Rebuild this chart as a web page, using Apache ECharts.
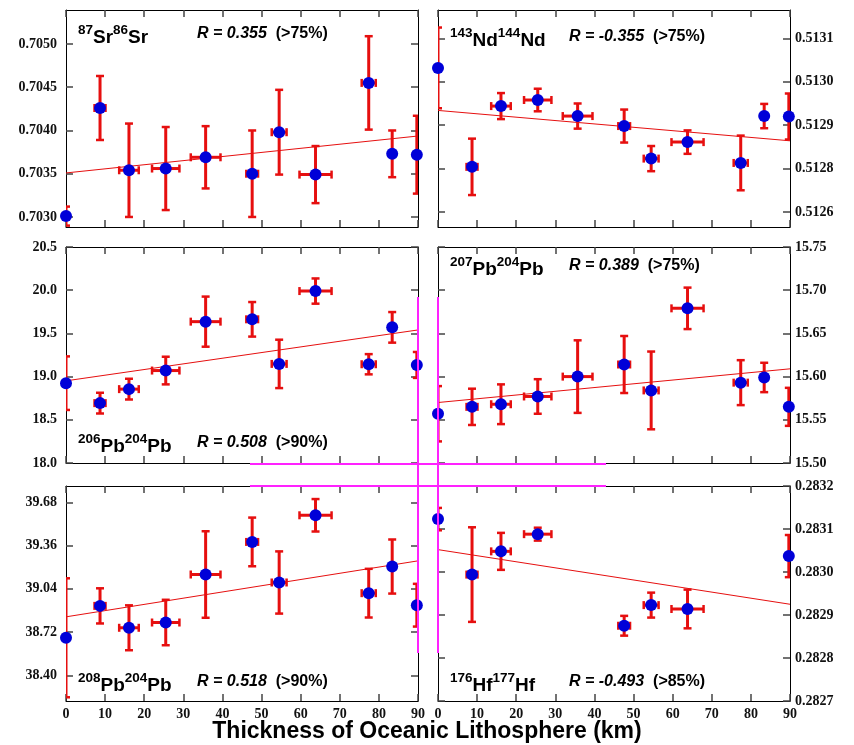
<!DOCTYPE html>
<html>
<head>
<meta charset="utf-8">
<script src="https://cdn.jsdelivr.net/npm/echarts@6/dist/echarts.min.js"></script>
<style>
  html, body { margin: 0; padding: 0; background: #fff; }
  #main { width: 854px; height: 745px; }
</style>
</head>
<body>
<div id="main"></div>
<script>
  // thickness of oceanic lithosphere (km) and its error
  var thickness = [0, 8.7, 16.1, 25.5, 35.7, 47.6, 54.5, 63.8, 77.4, 83.4, 89.7];
  var thicknessErr = [0, 1.4, 2.5, 3.5, 3.8, 1.5, 1.9, 4.1, 1.8, 0, 0];

  // 87Sr/86Sr
  var srVal = [0.70301, 0.70426, 0.70354, 0.70356, 0.70369, 0.70350, 0.70398, 0.70349, 0.70455, 0.70373, 0.70372];
  var srErr = [0.00011, 0.00037, 0.00054, 0.00048, 0.00036, 0.00050, 0.00049, 0.00033, 0.00054, 0.00027, 0.00045];
  var srFit = [0.703509, 0.703936];
  var srTicks = [0.7030, 0.7035, 0.7040, 0.7045, 0.7050];
  var srTickLabels = ['0.7030', '0.7035', '0.7040', '0.7045', '0.7050'];

  // 143Nd/144Nd
  var ndVal = [0.513032, 0.512804, 0.512944, 0.512958, 0.512921, 0.512898, 0.512823, 0.512861, 0.512813, 0.512921, 0.512920];
  var ndErr = [0.000093, 0.000065, 0.000030, 0.000026, 0.000029, 0.000038, 0.000029, 0.000027, 0.000063, 0.000028, 0.000053];
  var ndFit = [0.512934, 0.512864];
  var ndTicks = [0.5127, 0.5128, 0.5129, 0.5130, 0.5131];
  var ndTickLabels = ['0.5126', '0.5128', '0.5129', '0.5130', '0.5131'];

  // 206Pb/204Pb
  var pb206Val = [18.924, 18.693, 18.855, 19.07, 19.636, 19.663, 19.147, 19.99, 19.143, 19.57, 19.135];
  var pb206Err = [0.31, 0.12, 0.12, 0.16, 0.29, 0.2, 0.28, 0.146, 0.117, 0.177, 0.15];
  var pb206Fit = [18.951, 19.54];
  var pb206Ticks = [18.0, 18.5, 19.0, 19.5, 20.0, 20.5];
  var pb206TickLabels = ['18.0', '18.5', '19.0', '19.5', '20.0', '20.5'];

  // 207Pb/204Pb
  var pb207Val = [15.557, 15.565, 15.568, 15.577, 15.6, 15.614, 15.584, 15.679, 15.593, 15.599, 15.565];
  var pb207Err = [0.032, 0.021, 0.023, 0.02, 0.042, 0.033, 0.045, 0.024, 0.026, 0.017, 0.022];
  var pb207Fit = [15.570, 15.609];
  var pb207Ticks = [15.50, 15.55, 15.60, 15.65, 15.70, 15.75];
  var pb207TickLabels = ['15.50', '15.55', '15.60', '15.65', '15.70', '15.75'];

  // 208Pb/204Pb
  var pb208Val = [38.678, 38.914, 38.752, 38.791, 39.146, 39.387, 39.087, 39.584, 39.008, 39.205, 38.919];
  var pb208Err = [0.44, 0.13, 0.166, 0.168, 0.32, 0.18, 0.23, 0.12, 0.18, 0.2, 0.158];
  var pb208Fit = [38.833, 39.247];
  var pb208Ticks = [38.40, 38.72, 39.04, 39.36, 39.68];
  var pb208TickLabels = ['38.40', '38.72', '39.04', '39.36', '39.68'];

  // 176Hf/177Hf (fewer samples)
  var hfIdx = [0, 1, 2, 3, 5, 6, 7, 10];
  var hfVal = [0.283123, 0.282994, 0.283048, 0.283088, 0.282875, 0.282923, 0.282914, 0.283037];
  var hfErr = [0.000026, 0.00011, 0.000043, 0.000015, 0.000023, 0.000029, 0.000045, 0.000049];
  var hfFit = [0.283052, 0.282925];
  var hfTicks = [0.2827, 0.2828, 0.2829, 0.2830, 0.2831, 0.2832];
  var hfTickLabels = ['0.2827', '0.2828', '0.2829', '0.2830', '0.2831', '0.2832'];

  var isoTexts = ['{s|87}{b|Sr}{s|86}{b|Sr}', '{s|143}{b|Nd}{s|144}{b|Nd}', '{s|206}{b|Pb}{s|204}{b|Pb}',
                  '{s|207}{b|Pb}{s|204}{b|Pb}', '{s|208}{b|Pb}{s|204}{b|Pb}', '{s|176}{b|Hf}{s|177}{b|Hf}'];
  var rTexts = ['R = 0.355', 'R = -0.355', 'R = 0.508', 'R = 0.389', 'R = 0.518', 'R = -0.493'];
  var confTexts = ['(>75%)', '(>75%)', '(>90%)', '(>75%)', '(>90%)', '(>85%)'];

  var allIdx = thickness.map(function (d, i) { return i; });

  var RED = '#e60f0f';
  var BLUE = '#0000d8';
  var SERIF = '"Liberation Serif", "Times New Roman", serif';
  var SANS = '"Liberation Sans", Arial, sans-serif';

  // tickStep is only set where the axis min is a multiple of it
  var panels = [
    { val: srVal, err: srErr, fit: srFit, idx: allIdx, ticks: srTicks, labels: srTickLabels, min: 0.702884, max: 0.705393,
      grid: { left: 66, top: 10, width: 352, height: 217 }, side: 'left', textY: 33.5 },
    { val: ndVal, err: ndErr, fit: ndFit, idx: allIdx, ticks: ndTicks, labels: ndTickLabels, min: 0.5126654, max: 0.5131654,
      grid: { left: 438, top: 10, width: 352, height: 217 }, side: 'right', textY: 36.5 },
    { val: pb206Val, err: pb206Err, fit: pb206Fit, idx: allIdx, ticks: pb206Ticks, labels: pb206TickLabels, min: 18.0, max: 20.5, tickStep: 0.5,
      grid: { left: 66, top: 247, width: 352, height: 216 }, side: 'left', textY: 442.5 },
    { val: pb207Val, err: pb207Err, fit: pb207Fit, idx: allIdx, ticks: pb207Ticks, labels: pb207TickLabels, min: 15.5, max: 15.75, tickStep: 0.05,
      grid: { left: 438, top: 247, width: 352, height: 216 }, side: 'right', textY: 266 },
    { val: pb208Val, err: pb208Err, fit: pb208Fit, idx: allIdx, ticks: pb208Ticks, labels: pb208TickLabels, min: 38.2105, max: 39.8006,
      grid: { left: 66, top: 486, width: 352, height: 215 }, side: 'left', textY: 681.5 },
    { val: hfVal, err: hfErr, fit: hfFit, idx: hfIdx, ticks: hfTicks, labels: hfTickLabels, min: 0.2827, max: 0.2832, tickStep: 0.0001,
      grid: { left: 438, top: 486, width: 352, height: 215 }, side: 'right', textY: 681.5 }
  ];

  // error bars: vertical for the ratio, horizontal for thickness
  function errorBars(params, api) {
    var x = api.value(0), y = api.value(1), ex = api.value(2), ey = api.value(3);
    var c = api.coord([x, y]);
    var t = api.coord([x, y + ey]);
    var b = api.coord([x, y - ey]);
    var bar = { stroke: RED, lineWidth: 3 };
    var cap = { stroke: RED, lineWidth: 2.5 };
    var kids = [
      { type: 'line', shape: { x1: c[0], y1: t[1], x2: c[0], y2: b[1] }, style: bar },
      { type: 'line', shape: { x1: c[0] - 4, y1: t[1], x2: c[0] + 4, y2: t[1] }, style: cap },
      { type: 'line', shape: { x1: c[0] - 4, y1: b[1], x2: c[0] + 4, y2: b[1] }, style: cap }
    ];
    if (ex > 0) {
      var l = api.coord([x - ex, y]);
      var r = api.coord([x + ex, y]);
      kids.push(
        { type: 'line', shape: { x1: l[0], y1: c[1], x2: r[0], y2: c[1] }, style: bar },
        { type: 'line', shape: { x1: l[0], y1: c[1] - 4, x2: l[0], y2: c[1] + 4 }, style: cap },
        { type: 'line', shape: { x1: r[0], y1: c[1] - 4, x2: r[0], y2: c[1] + 4 }, style: cap }
      );
    }
    return { type: 'group', children: kids };
  }

  function labelFormatter(ticks, labels) {
    return function (v) {
      for (var j = 0; j < ticks.length; j++) {
        if (Math.abs(ticks[j] - v) < 1e-9) return labels[j];
      }
      return '';
    };
  }

  var grids = [], xAxes = [], yAxes = [], series = [], graphics = [];
  var lineStyle = { color: '#000', width: 1 };

  function tickOpt() {
    return { show: true, inside: true, length: 7, lineStyle: { color: '#444', width: 1.5 } };
  }

  panels.forEach(function (p, i) {
    grids.push(Object.assign({ outerBoundsMode: 'none', containLabel: false }, p.grid));
    var bottomRow = i >= 4;
    ['bottom', 'top'].forEach(function (pos, k) {
      xAxes.push({
        type: 'value', gridIndex: i, position: pos, min: 0, max: 90, interval: 10,
        axisLine: { show: true, onZero: false, lineStyle: lineStyle },
        axisTick: tickOpt(),
        axisLabel: {
          show: bottomRow && k === 0, margin: 6,
          fontFamily: SERIF, fontWeight: 'bold', fontSize: 14, color: '#111'
        },
        splitLine: { show: false }
      });
    });
    var other = p.side === 'left' ? 'right' : 'left';
    [p.side, other].forEach(function (pos, k) {
      var tick = tickOpt();
      var ax = {
        type: 'value', gridIndex: i, position: pos, min: p.min, max: p.max,
        axisLine: { show: true, onZero: false, lineStyle: lineStyle },
        axisTick: tick,
        axisLabel: {
          show: k === 0, customValues: p.ticks, margin: p.side === 'left' ? 9 : 5,
          fontFamily: SERIF, fontWeight: 'bold', fontSize: 14, color: '#111',
          formatter: labelFormatter(p.ticks, p.labels)
        },
        splitLine: { show: false }
      };
      if (p.tickStep) ax.interval = p.tickStep;
      else tick.customValues = p.ticks;
      yAxes.push(ax);
    });

    var data = p.idx.map(function (si, j) {
      return [thickness[si], p.val[j], thicknessErr[si], p.err[j]];
    });

    series.push({
      type: 'line', xAxisIndex: 2 * i, yAxisIndex: 2 * i, z: 1,
      data: [[0, p.fit[0]], [90, p.fit[1]]],
      showSymbol: false, symbol: 'none', silent: true, animation: false,
      lineStyle: { color: RED, width: 1, opacity: 1 }
    });
    series.push({
      type: 'custom', xAxisIndex: 2 * i, yAxisIndex: 2 * i, z: 2, clip: true,
      renderItem: errorBars, data: data, animation: false, silent: true
    });
    series.push({
      type: 'scatter', xAxisIndex: 2 * i, yAxisIndex: 2 * i, z: 3, clip: false,
      data: data.map(function (d) { return [d[0], d[1]]; }),
      symbol: 'circle', symbolSize: 12, itemStyle: { color: BLUE, opacity: 1 },
      animation: false, silent: true
    });

    // panel annotations
    graphics.push({
      type: 'text', x: p.grid.left + 12, y: p.textY - 10.5, z: 10,
      style: {
        text: isoTexts[i], align: 'left', verticalAlign: 'top', fill: '#000',
        rich: {
          s: { fontFamily: SANS, fontWeight: 'bold', fontSize: 13.5, lineHeight: 12, verticalAlign: 'top', fill: '#000' },
          b: { fontFamily: SANS, fontWeight: 'bold', fontSize: 19, lineHeight: 24, verticalAlign: 'bottom', fill: '#000' }
        }
      }
    });
    graphics.push({
      type: 'text', x: p.grid.left + 131, y: p.textY, z: 10,
      style: {
        text: '{i|' + rTexts[i] + '}{n|  ' + confTexts[i] + '}', align: 'left', verticalAlign: 'middle',
        rich: {
          i: { fontFamily: SANS, fontWeight: 'bold', fontStyle: 'italic', fontSize: 16, fill: '#000' },
          n: { fontFamily: SANS, fontWeight: 'bold', fontSize: 16, fill: '#000' }
        }
      }
    });
  });

  graphics.push({
    type: 'text', x: 427, y: 732, z: 10,
    style: {
      text: 'Thickness of Oceanic Lithosphere (km)', align: 'center', verticalAlign: 'middle',
      fontFamily: SANS, fontWeight: 'bold', fontSize: 23, fill: '#000'
    }
  });

  // magenta marker lines seen in the original figure
  var magenta = { stroke: '#ff22ff', lineWidth: 2 };
  [[418, 297, 418, 653], [438, 297, 438, 653], [250, 464, 606, 464], [250, 486, 606, 486]].forEach(function (s) {
    graphics.push({ type: 'line', z: 20, shape: { x1: s[0], y1: s[1], x2: s[2], y2: s[3] }, style: magenta });
  });

  var chart = echarts.init(document.getElementById('main'), null, { renderer: 'canvas' });
  chart.setOption({
    animation: false,
    backgroundColor: '#fff',
    grid: grids,
    xAxis: xAxes,
    yAxis: yAxes,
    series: series,
    graphic: graphics
  });
  window.addEventListener('resize', function () { chart.resize(); });
</script>
</body>
</html>
